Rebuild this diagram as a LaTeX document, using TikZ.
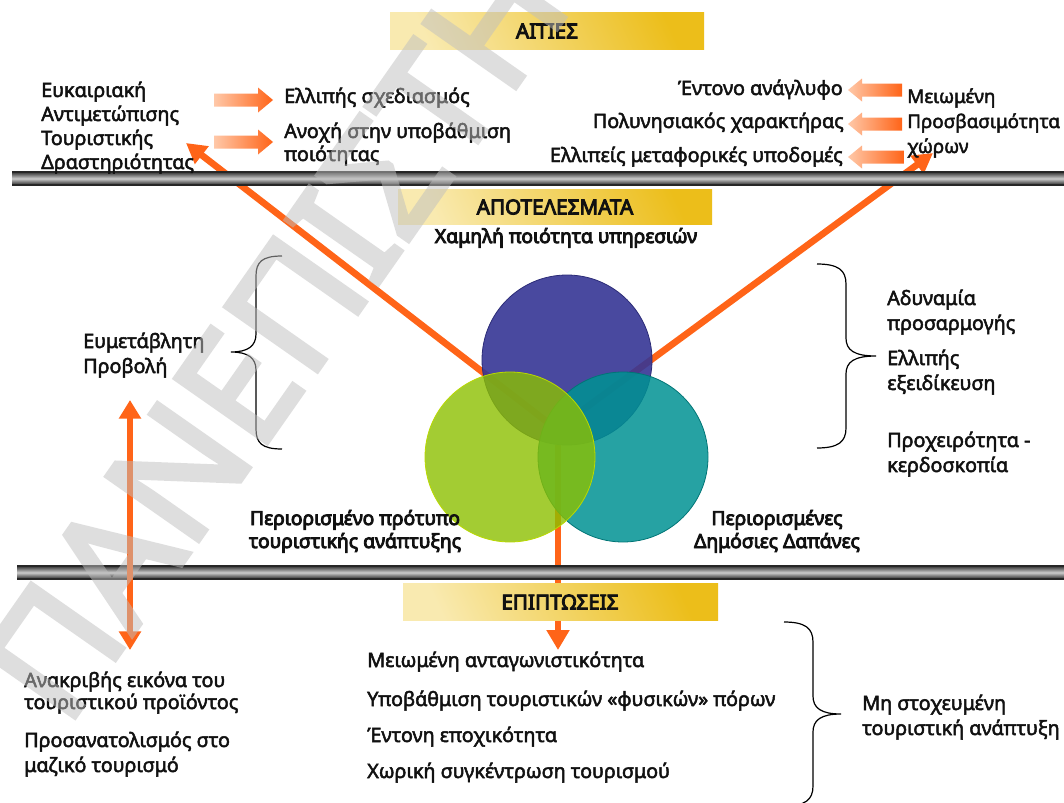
\documentclass[tikz,border=0pt]{standalone}
\usepackage{fontspec}
\setmainfont{Noto Sans}
\newfontfamily\bodyfont{Noto Sans}[FakeBold=2.5]
\newfontfamily\headfont{Noto Sans}[FakeBold=4.5]
\newfontfamily\wmfont{Noto Sans}[FakeBold=3]
\usetikzlibrary{arrows.meta}
\definecolor{hdrL}{HTML}{F9EAB0}
\definecolor{hdrD}{HTML}{ECBE1A}
\definecolor{orng}{HTML}{FF6418}
\definecolor{arrL}{HTML}{FFC8A8}
\definecolor{arrD}{HTML}{FF6418}
\definecolor{cBlue}{RGB}{54,54,149}
\definecolor{cGreen}{RGB}{140,192,0}
\definecolor{cTeal}{RGB}{0,146,147}
\definecolor{wmgray}{gray}{0.75}
\definecolor{ink}{HTML}{111111}
\tikzset{
  txt/.style={inner sep=0pt, text=ink, align=left, font=\bodyfont\fontsize{14.8}{#1}\selectfont},
  txt/.default=18,
  btxt/.style={inner sep=0pt, text=ink, align=center, font=\headfont\fontsize{14.5}{#1}\selectfont},
  btxt/.default=17.25,
  hdrbox/.style={left color=hdrL, right color=hdrD, shading angle=115},
  hdrtxt/.style={inner sep=0pt, text=ink, font=\headfont\fontsize{15.5}{16}\selectfont},
  blockarrow/.style={left color=arrL, right color=arrD},
  bar/.style={top color=black!80, bottom color=black!85, middle color=black!20},
  barline/.style={draw=black!85, line width=0.9pt},
  bigarrow/.style={draw=orng, line width=5pt, -{Triangle[length=15pt,width=16pt]}},
  bracestyle/.style={draw=black, line width=0.9pt},
  wmark/.style={rotate=55, anchor=base west, inner sep=0pt, text=wmgray,
    font=\wmfont\fontsize{118}{118}\selectfont}
}
\begin{document}
\begin{tikzpicture}[x=0.75pt,y=-0.75pt]
\useasboundingbox (0,0) rectangle (1064,803);
\clip (0,0) rectangle (1064,803);
\fill[white] (0,0) rectangle (1064,803);

% named end points of the connectors
\coordinate (lStart) at (555,428);
\coordinate (lTip) at (186,143);
\coordinate (rStart) at (580,412);
\coordinate (rTip) at (933,153);
\coordinate (cStart) at (558,445);
\coordinate (cTip) at (558,650);
\coordinate (vTop) at (130,400);
\coordinate (vBot) at (130,650);

% centre vertical arrow (under circles, bars and box)
\draw[draw=orng, line width=4.5pt, -{Triangle[length=15pt,width=16.5pt]}] (cStart) -- (cTip);

% diagonal arrows
\draw[bigarrow] (lStart) -- (lTip);
\draw[bigarrow] (rStart) -- (rTip);

% circles
\filldraw[fill=cBlue, draw=cBlue!80!black, fill opacity=0.9, line width=0.6pt] (567,360) circle (85);
\filldraw[fill=cTeal, draw=cTeal!80!black, fill opacity=0.85, line width=0.6pt] (623,457) circle (85);
\filldraw[fill=cGreen, draw=cGreen!60!yellow, fill opacity=0.8, line width=0.6pt] (510,457) circle (85);

% bars
\shade[bar] (12,172) rectangle (1064,185);
\draw[barline] (12,172) -- (1064,172);
\draw[barline] (12,185) -- (1064,185);
\shade[bar] (17,566) rectangle (1064,579);
\draw[barline] (17,566) -- (1064,566);
\draw[barline] (17,579) -- (1064,579);

% left double arrow (over the bar)
\draw[draw=orng, line width=5pt, {Triangle[length=14pt,width=16pt]}-{Triangle[length=14pt,width=16pt]}] (vTop) -- (vBot);

% header boxes
\shade[hdrbox] (390,12) rectangle (704,49);
\node[hdrtxt] (aities) at (547,31) {ΑΙΤΙΕΣ};
\shade[hdrbox] (398,189) rectangle (712,224);
\node[hdrtxt] (apotel) at (555,207) {ΑΠΟΤΕΛΕΣΜΑΤΑ};
\shade[hdrbox] (403,583) rectangle (718,620);
\node[hdrtxt] (epipt) at (560,602) {ΕΠΙΠΤΩΣΕΙΣ};

% block arrows, top left (pointing right)
\shade[blockarrow] (214,93.5) -- (258,93.5) -- (258,87.5) -- (273,100) -- (258,112.5) -- (258,106.5) -- (214,106.5) -- cycle;
\shade[blockarrow] (214,135.5) -- (258,135.5) -- (258,129.5) -- (273,142) -- (258,154.5) -- (258,148.5) -- (214,148.5) -- cycle;
% block arrows, top right (pointing left)
\shade[blockarrow] (902,83.5) -- (862,83.5) -- (862,78.5) -- (848,90) -- (862,101.5) -- (862,96.5) -- (902,96.5) -- cycle;
\shade[blockarrow] (902,117.5) -- (862,117.5) -- (862,112.5) -- (848,124) -- (862,135.5) -- (862,130.5) -- (902,130.5) -- cycle;
\shade[blockarrow] (904,150.5) -- (862,150.5) -- (862,145.5) -- (848,157) -- (862,168.5) -- (862,163.5) -- (904,163.5) -- cycle;

% top texts (anchor = baseline of the last line)
\node[txt=18, anchor=base west] (eukair) at (41,169) {Ευκαιριακή\\Αντιμετώπισης\\Τουριστικής\\Δραστηριότητας};
\node[txt, anchor=base west] (ellsx) at (284,103) {Ελλιπής σχεδιασμός};
\node[txt=17.25, anchor=base west] (anoxi) at (284,161) {Ανοχή στην υποβάθμιση\\ποιότητας};
\node[txt, anchor=base east] (enton) at (843,95) {Έντονο ανάγλυφο};
\node[txt, anchor=base east] (polyn) at (844,128) {Πολυνησιακός χαρακτήρας};
\node[txt, anchor=base east] (ellme) at (843,162) {Ελλιπείς μεταφορικές υποδομές};
\node[txt, font=\bodyfont\fontsize{14.1}{18.75}\selectfont, anchor=base west] (meiom) at (907,153) {Μειωμένη\\Προσβασιμότητα\\χώρων};

% middle texts
\node[btxt, anchor=base] (xamil) at (566,243) {Χαμηλή ποιότητα υπηρεσιών};
\node[txt=18.75, anchor=base west] (eumet) at (83,373) {Ευμετάβλητη\\Προβολή};
\node[txt=18.75, anchor=base west] (adyn) at (887,330) {Αδυναμία\\προσαρμογής};
\node[txt=18.75, anchor=base west] (ellex) at (887,390) {Ελλιπής\\εξειδίκευση};
\node[txt=18.75, anchor=base west] (proxe) at (887,472) {Προχειρότητα -\\κερδοσκοπία};
\node[btxt, anchor=base] (perio) at (355,548) {Περιορισμένο πρότυπο\\τουριστικής ανάπτυξης};
\node[btxt, anchor=base] (perid) at (777,548) {Περιορισμένες\\Δημόσιες Δαπάνες};

% bottom texts
\node[txt=16.5, anchor=base west] (anakr) at (24,709) {Ανακριβής εικόνα του\\τουριστικού προϊόντος};
\node[txt=18.75, anchor=base west] (prosa) at (24,772) {Προσανατολισμός στο\\μαζικό τουρισμό};
\node[txt, anchor=base west] (b1) at (367,667) {Μειωμένη ανταγωνιστικότητα};
\node[txt, anchor=base west] (b2) at (367,706) {Υποβάθμιση τουριστικών «φυσικών» πόρων};
\node[txt, anchor=base west] (b3) at (367,742) {Έντονη εποχικότητα};
\node[txt, anchor=base west] (b4) at (367,778) {Χωρική συγκέντρωση τουρισμού};
\node[txt=18.75, anchor=base west] (mistox) at (862,735) {Μη στοχευμένη\\τουριστική ανάπτυξη};

% braces
\draw[bracestyle] (282,256) .. controls (262,256) and (256,262) .. (256,276) -- (256,334)
  .. controls (256,346) and (248,352) .. (231,352) .. controls (248,352) and (256,358) .. (256,370)
  -- (256,429) .. controls (256,443) and (262,449) .. (282,449);
\draw[bracestyle] (817,264) .. controls (838,264) and (846,270) .. (846,284) -- (846,338)
  .. controls (846,350) and (854,356) .. (876,356) .. controls (854,356) and (846,362) .. (846,374)
  -- (846,428) .. controls (846,442) and (838,448) .. (817,448);
\draw[bracestyle] (784,622) .. controls (805,622) and (813,628) .. (813,642) -- (813,696)
  .. controls (813,708) and (821,714) .. (841,714) .. controls (821,714) and (813,720) .. (813,732)
  -- (813,786) .. controls (813,800) and (805,806) .. (784,806);

% watermark (semi-transparent, composited as one group)
\begin{scope}[transparency group, opacity=0.5]
\node[wmark] (wm) at (66,730) {ΠΑΝΕΠΙΣΤΗΜΙΟ};
\end{scope}
\end{tikzpicture}
\end{document}
